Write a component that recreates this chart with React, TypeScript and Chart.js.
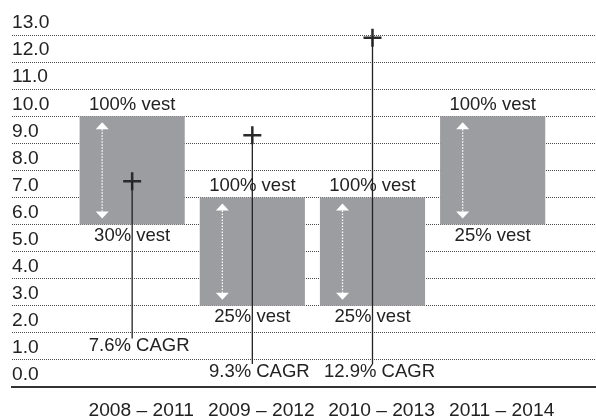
import React, { useEffect, useRef } from 'react';
import { Chart, registerables } from 'chart.js';

Chart.register(...registerables);

// ---- data ----
const periods = ['2008 – 2011', '2009 – 2012', '2010 – 2013', '2011 – 2014'];
const rangeLow = [6, 3, 3, 6];
const rangeHigh = [10, 7, 7, 10];
const topLabels = ['100% vest', '100% vest', '100% vest', '100% vest'];
const bottomLabels = ['30% vest', '25% vest', '25% vest', '25% vest'];
const cagrValues = [7.6, 9.3, 12.9];
const cagrLabels = ['7.6% CAGR', '9.3% CAGR', '12.9% CAGR'];
const cagrLabelLevels = [1.5, 0.55, 0.55];
const yTicks = [0, 1, 2, 3, 4, 5, 6, 7, 8, 9, 10, 11, 12, 13];

// ---- style ----
const FONT_FAMILY = "'Liberation Sans', Arial, Helvetica, sans-serif";
const FONT_SIZE = 18.5;
const TICK_FONT_SIZE = 19.2;
const TEXT = '#222222';
const BAR = '#9c9da1';

const annotate = {
  id: 'annotate',
  afterDatasetsDraw(chart: any) {
    const ctx = chart.ctx as CanvasRenderingContext2D;
    const yScale = chart.scales.y;
    const bars = chart.getDatasetMeta(0).data;
    ctx.save();
    ctx.font = `${FONT_SIZE}px ${FONT_FAMILY}`;
    ctx.textAlign = 'center';
    ctx.textBaseline = 'middle';
    bars.forEach((bar: any, i: number) => {
      const p = bar.getProps(['x', 'y', 'base', 'width'], true);
      const top = Math.min(p.y, p.base);
      const bottom = Math.max(p.y, p.base);
      const ax = p.x - p.width * 0.285;
      ctx.fillStyle = '#ffffff';
      ctx.beginPath();
      ctx.moveTo(ax, top + 6);
      ctx.lineTo(ax - 6.5, top + 13);
      ctx.lineTo(ax + 6.5, top + 13);
      ctx.closePath();
      ctx.fill();
      ctx.beginPath();
      ctx.moveTo(ax, bottom - 6);
      ctx.lineTo(ax - 6.5, bottom - 13);
      ctx.lineTo(ax + 6.5, bottom - 13);
      ctx.closePath();
      ctx.fill();
      ctx.strokeStyle = '#ffffff';
      ctx.lineWidth = 1.3;
      ctx.setLineDash([1.5, 1.5]);
      ctx.beginPath();
      ctx.moveTo(ax, top + 13);
      ctx.lineTo(ax, bottom - 13);
      ctx.stroke();
      ctx.setLineDash([]);
      ctx.fillStyle = TEXT;
      ctx.fillText(topLabels[i], p.x, top - 11.5);
      ctx.fillText(bottomLabels[i], p.x, bottom + 11.5);
    });
    const pts = chart.getDatasetMeta(1).data;
    pts.forEach((pt: any, i: number) => {
      const ly = yScale.getPixelForValue(cagrLabelLevels[i]);
      ctx.strokeStyle = TEXT;
      ctx.lineWidth = 1.3;
      ctx.beginPath();
      ctx.moveTo(pt.x, pt.y);
      ctx.lineTo(pt.x, ly - 8);
      ctx.stroke();
      ctx.fillStyle = TEXT;
      ctx.fillText(cagrLabels[i], pt.x + 7, ly);
    });
    ctx.restore();
  },
};

export default function App() {
  const ref = useRef<HTMLCanvasElement | null>(null);
  useEffect(() => {
    if (!ref.current) return;
    const font = { family: FONT_FAMILY, size: TICK_FONT_SIZE };
    const chart = new Chart(ref.current, {
      type: 'bar',
      data: {
        datasets: [
          {
            type: 'bar',
            order: 2,
            data: periods.map((_, i) => ({ x: i + 1, y: [rangeLow[i], rangeHigh[i]] })) as any,
            backgroundColor: BAR,
            borderWidth: 0,
            barPercentage: 0.875,
            categoryPercentage: 1,
          },
          {
            type: 'scatter',
            order: 1,
            clip: false,
            data: cagrValues.map((v, i) => ({ x: i + 1, y: v })),
            pointStyle: 'cross',
            pointRadius: 9,
            pointBorderWidth: 2.5,
            borderColor: '#2a2a2a',
            backgroundColor: '#2a2a2a',
            showLine: false,
          } as any,
        ],
      },
      options: {
        responsive: false,
        maintainAspectRatio: false,
        animation: false,
        devicePixelRatio: 1,
        events: [],
        layout: { autoPadding: false, padding: { top: 35, left: 12, right: 0, bottom: 0 } },
        plugins: { legend: { display: false }, tooltip: { enabled: false } },
        scales: {
          x: {
            type: 'linear',
            min: 0,
            max: 4.86,
            offset: false,
            afterBuildTicks: (s: any) => {
              s.ticks = periods.map((_, i) => ({ value: i + 1 }));
            },
            afterFit: (s: any) => {
              s.height = 31;
              s.paddingLeft = 0;
              s.paddingRight = 0;
            },
            grid: { display: false, offset: false },
            border: { display: true, color: '#333333', width: 2 },
            ticks: {
              callback: (v: any) => periods[Number(v) - 1] ?? '',
              padding: 4,
              labelOffset: 9,
              maxRotation: 0,
              autoSkip: false,
              font,
              color: TEXT,
            },
          },
          y: {
            min: 0,
            max: 13,
            afterBuildTicks: (s: any) => {
              s.ticks = yTicks.map((v) => ({ value: v }));
            },
            afterFit: (s: any) => {
              s.paddingTop = 0;
              s.paddingBottom = 0;
            },
            grid: { color: '#4a4a4a', lineWidth: 1, drawTicks: false },
            border: { display: false, dash: [1, 1] },
            ticks: {
              mirror: true,
              padding: 0,
              labelOffset: -12,
              autoSkip: false,
              callback: (v: any) => Number(v).toFixed(1),
              font,
              color: TEXT,
            },
          },
        },
      },
      plugins: [annotate],
    });
    return () => chart.destroy();
  }, []);
  return (
    <div style={{ position: 'fixed', left: 0, top: 0, width: 596, height: 418 }}>
      <canvas ref={ref} width={596} height={418} style={{ display: 'block', width: 596, height: 418 }} />
    </div>
  );
}
